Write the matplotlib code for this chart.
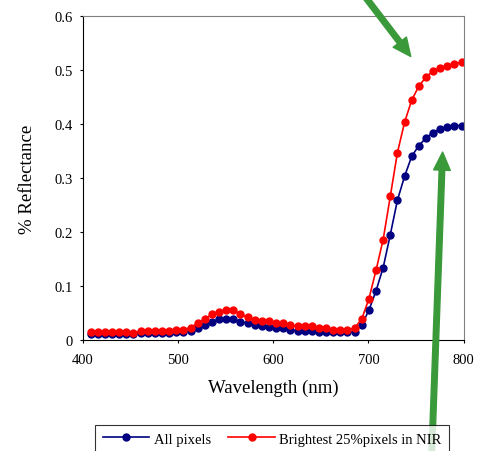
import matplotlib
matplotlib.use("Agg")
import matplotlib.pyplot as plt

plt.rcParams['font.family'] = ['Liberation Serif', 'DejaVu Serif']

# wavelength of each band (nm)
wavelength = [408, 415.5, 423, 430.5, 438, 445.5, 453, 460.5, 468, 475.5,
              483, 490.5, 498, 505.5, 513, 520.5, 528, 535.5, 543, 550.5,
              558, 565.5, 573, 580.5, 588, 595.5, 603, 610.5, 618, 625.5,
              633, 640.5, 648, 655.5, 663, 670.5, 678, 685.5, 693, 700.5,
              708, 715.5, 723, 730.5, 738, 745.5, 753, 760.5, 768, 775.5,
              783, 790.5, 798]

all_pixels = [0.011, 0.011, 0.011, 0.011, 0.011, 0.011, 0.011, 0.013, 0.013, 0.013,
              0.013, 0.013, 0.014, 0.015, 0.017, 0.023, 0.028, 0.034, 0.038, 0.038,
              0.038, 0.034, 0.031, 0.028, 0.025, 0.024, 0.022, 0.022, 0.019, 0.017,
              0.017, 0.017, 0.015, 0.015, 0.014, 0.014, 0.014, 0.015, 0.028, 0.055,
              0.091, 0.134, 0.195, 0.259, 0.303, 0.340, 0.360, 0.374, 0.384, 0.390,
              0.394, 0.397, 0.397]

brightest = [0.014, 0.014, 0.014, 0.014, 0.014, 0.014, 0.013, 0.017, 0.017, 0.017,
             0.017, 0.017, 0.018, 0.019, 0.023, 0.031, 0.038, 0.048, 0.052, 0.055,
             0.055, 0.048, 0.042, 0.037, 0.036, 0.035, 0.032, 0.031, 0.028, 0.025,
             0.025, 0.025, 0.022, 0.022, 0.019, 0.019, 0.019, 0.022, 0.039, 0.076,
             0.129, 0.186, 0.266, 0.347, 0.403, 0.444, 0.470, 0.487, 0.498, 0.504,
             0.508, 0.512, 0.514]

x_ticks = [400, 500, 600, 700, 800]
y_ticks = [0, 0.1, 0.2, 0.3, 0.4, 0.5, 0.6]
y_labels = ['0', '0.1', '0.2', '0.3', '0.4', '0.5', '0.6']

fig = plt.figure(figsize=(4.8, 4.52), dpi=100)
ax = fig.add_axes([0.173, 0.2456, 0.7927, 0.7168])

ax.plot(wavelength, all_pixels, color='#000080', lw=1.2, marker='o',
        markersize=5, label='All pixels')
ax.plot(wavelength, brightest, color='#ff0000', lw=1.2, marker='o',
        markersize=5, label='Brightest 25%pixels in NIR')

ax.set_xlim(400, 800)
ax.set_ylim(0, 0.6)
ax.set_xticks(x_ticks)
ax.set_yticks(y_ticks)
ax.set_yticklabels(y_labels)
ax.tick_params(direction='out', length=2.5, width=0.8, labelsize=10.5, pad=5)
ax.tick_params(axis='x', pad=7)

for s in ['top', 'right']:
    ax.spines[s].set_color('#808080')
for s in ['left', 'bottom']:
    ax.spines[s].set_color('black')

ax.set_xlabel('Wavelength (nm)', fontsize=13.5, labelpad=9)
ax.set_ylabel('% Reflectance', fontsize=13.5, labelpad=13)

leg = fig.legend(loc='upper center', bbox_to_anchor=(0.567, 0.0575), ncol=2,
                 fontsize=10.5, frameon=True, fancybox=False, handlelength=3.2,
                 columnspacing=1.2, handletextpad=0.3, borderpad=0.5,
                 borderaxespad=0, edgecolor='black')
leg.get_frame().set_linewidth(0.8)

# green arrows pointing at the NIR plateaus
arrow_style = 'simple,head_length=0.65,head_width=0.6,tail_width=0.2'
ax.annotate('', xy=(744.5, 0.525), xytext=(686, 0.66), annotation_clip=False,
            arrowprops=dict(arrowstyle=arrow_style, mutation_scale=20,
                            color='#3a9a3a', shrinkA=0, shrinkB=0), zorder=10)
ax.annotate('', xy=(778, 0.348), xytext=(766, -0.24), annotation_clip=False,
            arrowprops=dict(arrowstyle=arrow_style, mutation_scale=20,
                            color='#3a9a3a', shrinkA=0, shrinkB=0), zorder=10)

fig.savefig('out.png', dpi=100)
